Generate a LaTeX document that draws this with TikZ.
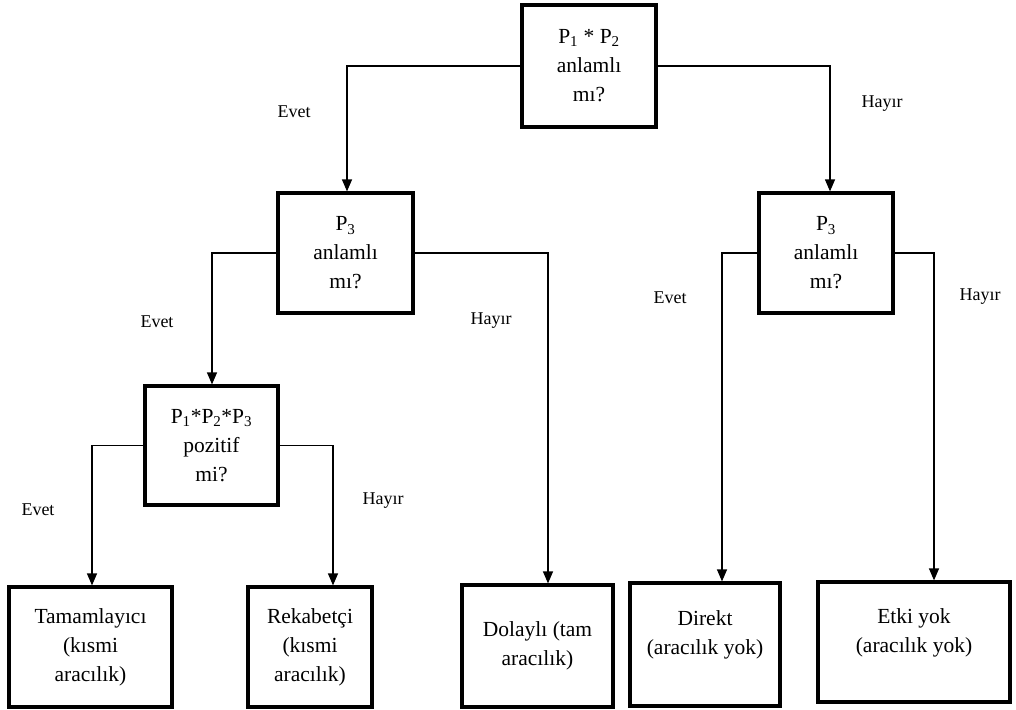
\documentclass[tikz,border=0pt]{standalone}
\usepackage{fontspec}
\setmainfont{Liberation Serif}
\usetikzlibrary{arrows.meta}
\begin{document}
\begin{tikzpicture}[x=1pt,y=-1pt,
  box/.style={draw,line width=3.2pt,align=center,inner sep=2pt,
    font=\fontsize{21.5}{29}\selectfont},
  link/.style={line width=1.2pt,-{Triangle[width=10pt,length=12pt]}},
  lbl/.style={font=\fontsize{18}{20}\selectfont,inner sep=0pt}]
  \useasboundingbox (0,0) rectangle (1016,709);

  % decision boxes
  \node[box,minimum width=134pt,minimum height=122pt] (top) at (589,66)
    {P\textsubscript{1} * P\textsubscript{2}\\anlamlı\\mı?};
  \node[box,minimum width=135pt,minimum height=120pt] (p3l) at (345.5,253)
    {P\textsubscript{3}\\anlamlı\\mı?};
  \node[box,minimum width=134pt,minimum height=120pt] (p3r) at (826,253)
    {P\textsubscript{3}\\anlamlı\\mı?};
  \node[box,minimum width=133pt,minimum height=119pt] (pos) at (211.5,445.5)
    {P\textsubscript{1}*P\textsubscript{2}*P\textsubscript{3}\\pozitif\\mi?};

  % outcome boxes
  \node[box,minimum width=163pt,minimum height=120pt] (tam) at (90.5,647)
    {Tamamlayıcı\\(kısmi\\aracılık)};
  \node[box,minimum width=124pt,minimum height=120pt] (rek) at (310,647)
    {Rekabetçi\\(kısmi\\aracılık)};
  \node[box,minimum width=151pt,minimum height=122pt] (dol) at (537.5,646)
    {Dolaylı (tam\\aracılık)};
  \node[box,minimum width=150pt,minimum height=123pt] (dir) at (705,644.5)
    {Direkt\\(aracılık yok)\\[-6pt]\mbox{}};
  \node[box,minimum width=192pt,minimum height=120pt] (etk) at (914,642)
    {Etki yok\\(aracılık yok)\\[-6pt]\mbox{}};

  % connectors
  \draw[link] (top.west) -| (347,0 |- p3l.north);
  \draw[link] (top.east) -| (830,0 |- p3r.north);
  \draw[link] (p3l.west) -| (212,0 |- pos.north);
  \draw[link] (p3l.east) -| (548,0 |- dol.north);
  \draw[link] (pos.west) -| (92,0 |- tam.north);
  \draw[link] (pos.east) -| (333,0 |- rek.north);
  \draw[link] (p3r.west) -| (722,0 |- dir.north);
  \draw[link] (p3r.east) -| (934,0 |- etk.north);

  % branch labels
  \node[lbl] (l1) at (294,112) {Evet};
  \node[lbl] (l2) at (882,104) {Hayır};
  \node[lbl] (l3) at (157,322) {Evet};
  \node[lbl] (l4) at (491,321) {Hayır};
  \node[lbl] (l5) at (670,298) {Evet};
  \node[lbl] (l6) at (980,297) {Hayır};
  \node[lbl] (l7) at (38,510) {Evet};
  \node[lbl] (l8) at (383,501) {Hayır};
\end{tikzpicture}
\end{document}
